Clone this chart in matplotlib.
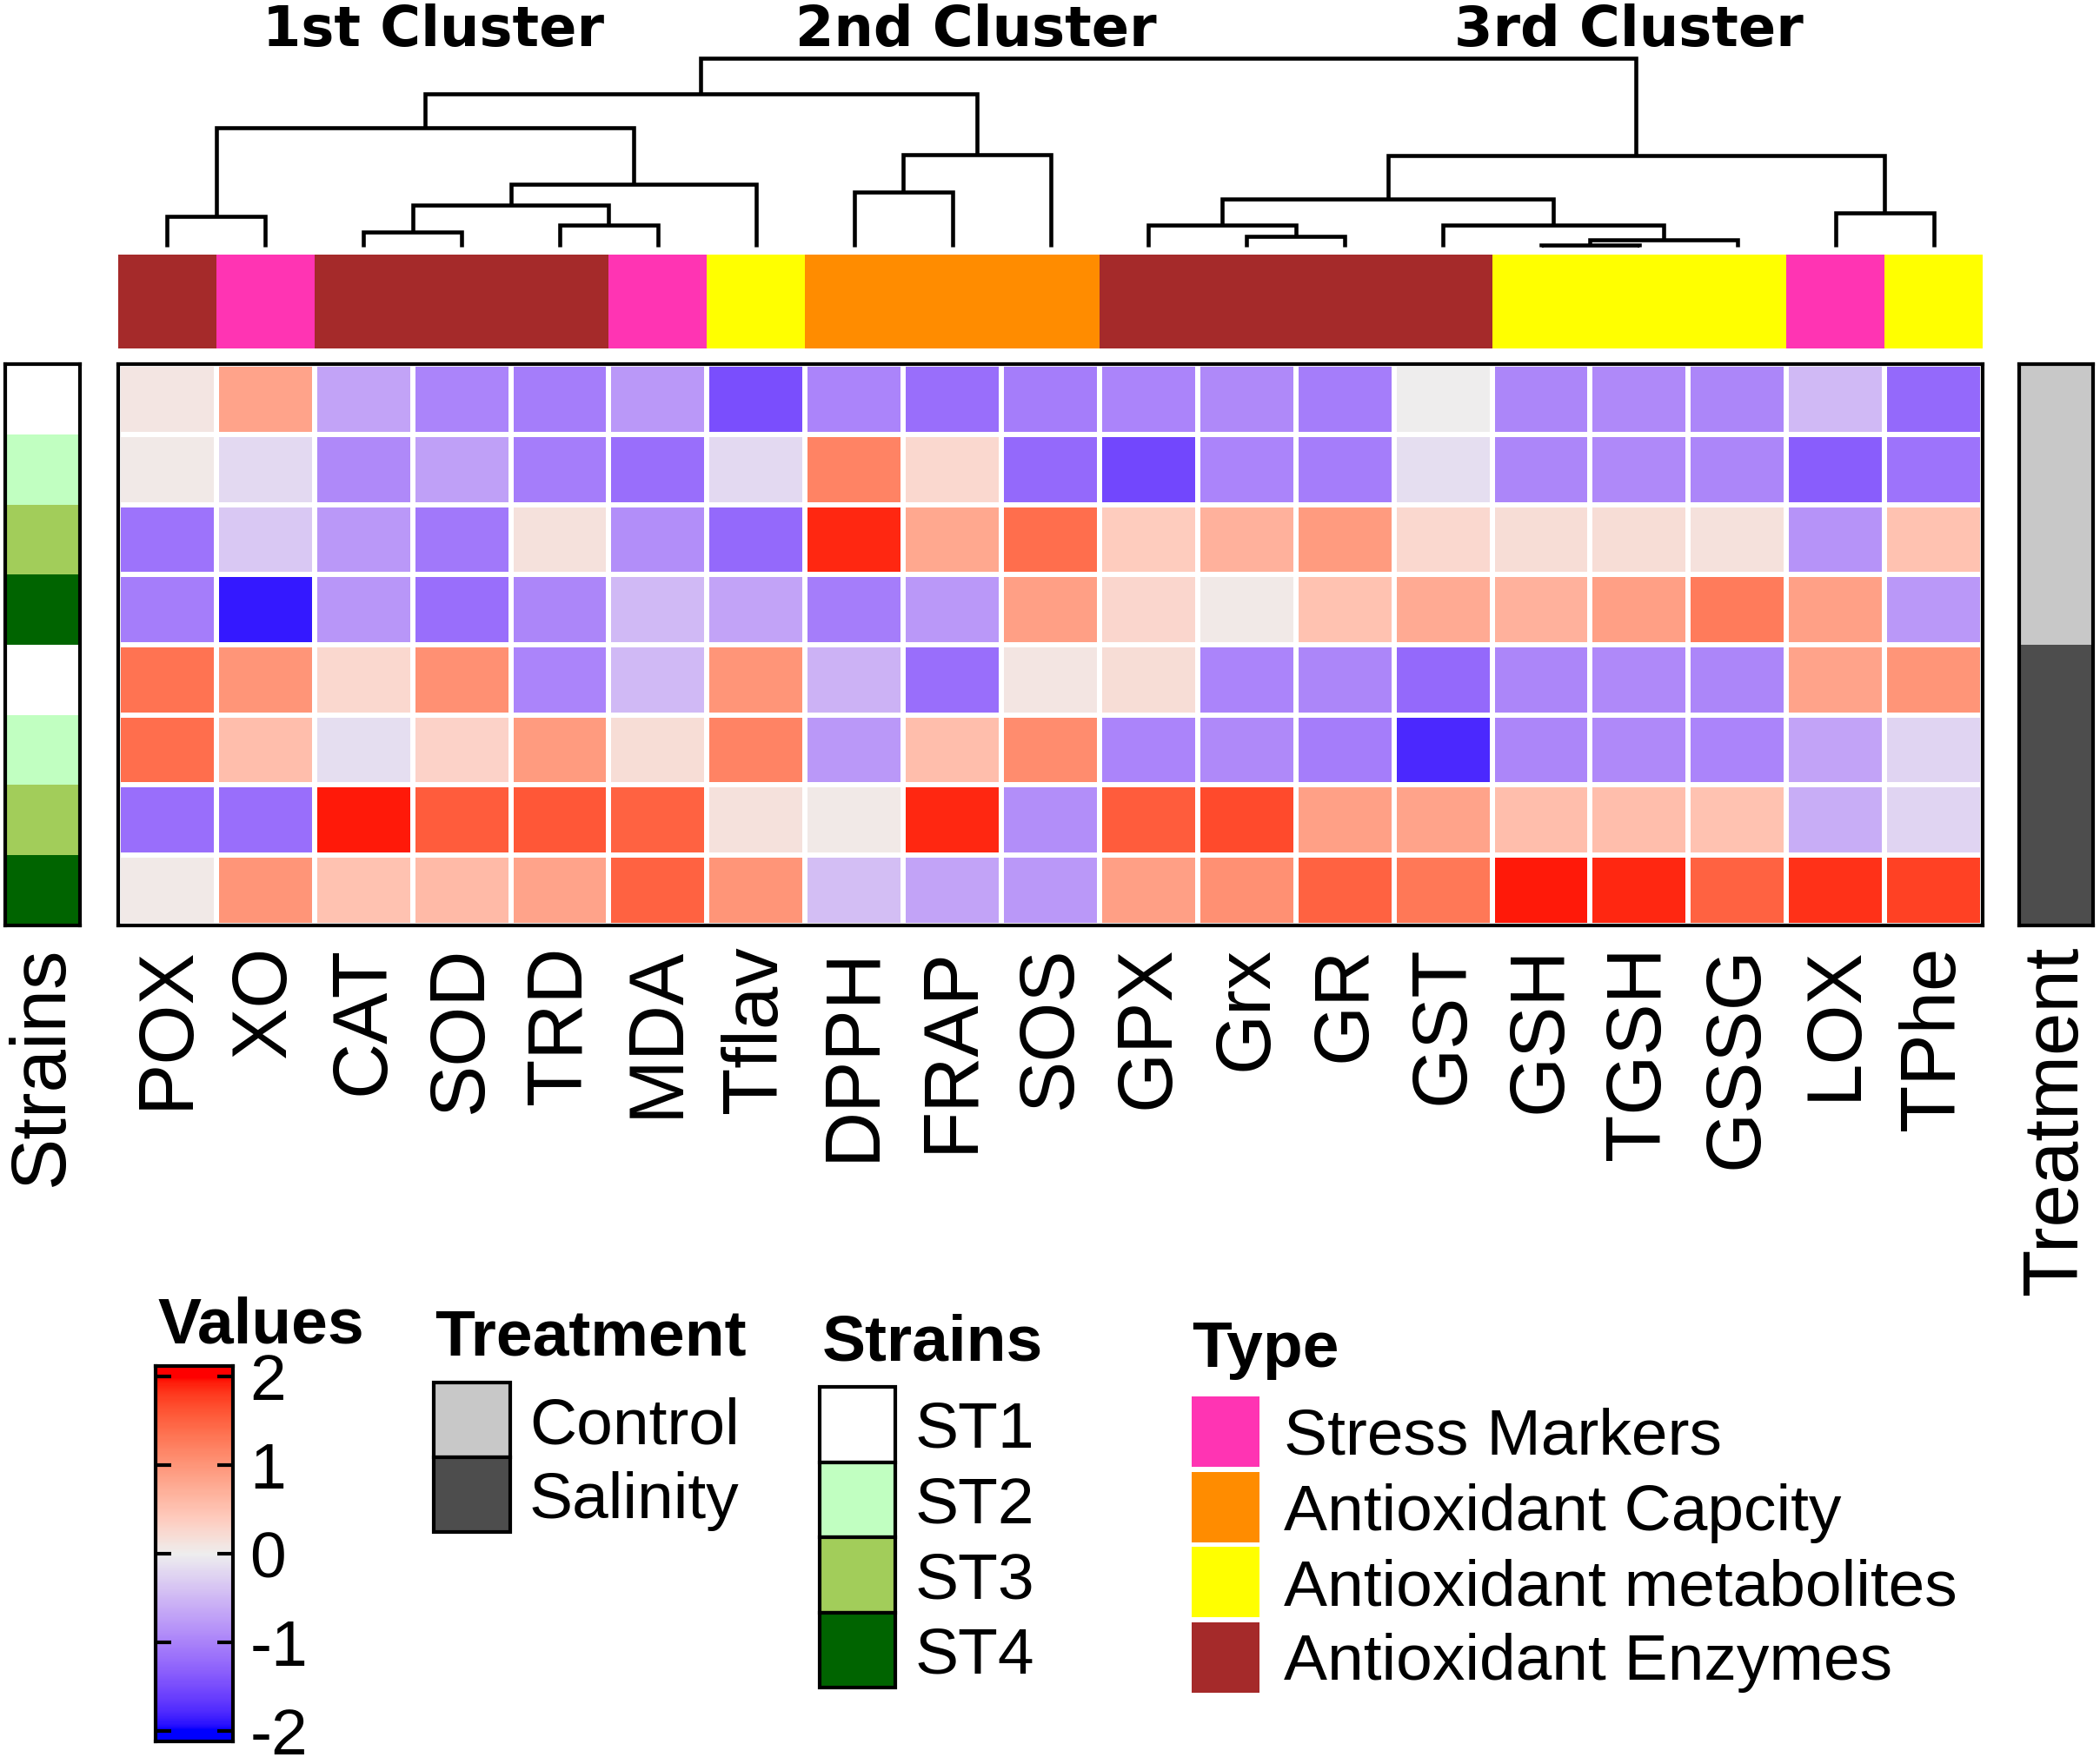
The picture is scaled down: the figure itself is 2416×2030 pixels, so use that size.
import numpy as np
import matplotlib
matplotlib.use("Agg")
import matplotlib.pyplot as plt
from matplotlib.colors import ListedColormap
from matplotlib.patches import Rectangle

# ---------------- data ----------------
columns = ["POX", "XO", "CAT", "SOD", "TRD", "MDA", "Tflav", "DPPH", "FRAP", "SOS",
           "GPX", "Grx", "GR", "GST", "GSH", "TGSH", "GSSG", "LOX", "TPhe"]
col_types = ["Antioxidant Enzymes", "Stress Markers", "Antioxidant Enzymes", "Antioxidant Enzymes",
             "Antioxidant Enzymes", "Stress Markers", "Antioxidant metabolites", "Antioxidant Capcity",
             "Antioxidant Capcity", "Antioxidant Capcity", "Antioxidant Enzymes", "Antioxidant Enzymes",
             "Antioxidant Enzymes", "Antioxidant Enzymes", "Antioxidant metabolites",
             "Antioxidant metabolites", "Antioxidant metabolites", "Stress Markers",
             "Antioxidant metabolites"]
row_strains = ["ST1", "ST2", "ST3", "ST4", "ST1", "ST2", "ST3", "ST4"]
row_treatment = ["Control"] * 4 + ["Salinity"] * 4

st1_control = [0.1, 0.85, -0.7, -1.0, -1.05, -0.8, -1.5, -1.0, -1.2, -1.05, -1.0, -0.95, -1.05, 0.0, -0.97, -0.95, -0.97, -0.5, -1.25]
st2_control = [0.05, -0.2, -0.95, -0.72, -1.05, -1.2, -0.2, 1.2, 0.25, -1.25, -1.55, -1.0, -1.05, -0.15, -0.97, -0.95, -0.97, -1.35, -1.15]
st3_control = [-1.15, -0.35, -0.8, -1.1, 0.15, -0.9, -1.25, 1.9, 0.8, 1.4, 0.4, 0.7, 0.95, 0.25, 0.2, 0.2, 0.15, -0.85, 0.5]
st4_control = [-1.05, -1.9, -0.82, -1.2, -0.97, -0.5, -0.7, -1.05, -0.8, 0.9, 0.28, 0.05, 0.5, 0.78, 0.7, 0.9, 1.28, 0.88, -0.8]
st1_salinity = [1.35, 1.0, 0.25, 1.05, -1.0, -0.5, 1.0, -0.55, -1.2, 0.1, 0.2, -1.0, -0.97, -1.25, -0.97, -0.95, -0.97, 0.85, 1.0]
st2_salinity = [1.4, 0.55, -0.15, 0.32, 0.95, 0.2, 1.2, -0.8, 0.55, 1.1, -1.0, -0.95, -1.05, -1.8, -0.97, -0.95, -1.0, -0.7, -0.25]
st3_salinity = [-1.2, -1.2, 1.95, 1.55, 1.6, 1.5, 0.15, 0.05, 1.9, -0.9, 1.55, 1.7, 0.88, 0.85, 0.55, 0.55, 0.5, -0.6, -0.25]
st4_salinity = [0.05, 1.0, 0.5, 0.6, 0.85, 1.5, 1.0, -0.45, -0.7, -0.8, 0.9, 1.05, 1.5, 1.3, 1.95, 1.9, 1.5, 1.85, 1.75]

# dendrogram merges: (left, right, height); ints refer to earlier merges
merges = [
    ("POX", "XO", 23),      # 0
    ("CAT", "SOD", 11),     # 1
    ("TRD", "MDA", 16),     # 2
    (1, 2, 31),             # 3
    (3, "Tflav", 47),       # 4
    (0, 4, 89),             # 5
    ("DPPH", "FRAP", 41),   # 6
    (6, "SOS", 69),         # 7
    (5, 7, 114),            # 8
    ("Grx", "GR", 8),       # 9
    ("GPX", 9, 16),         # 10
    ("GSH", "TGSH", 1.2),   # 11
    (11, "GSSG", 5.5),      # 12
    ("GST", 12, 16),        # 13
    (10, 13, 36),           # 14
    ("LOX", "TPhe", 25),    # 15
    (14, 15, 68),           # 16
    (8, 16, 141),           # 17
]
cluster_titles = ["1st Cluster", "2nd Cluster", "3rd Cluster"]

strain_levels = ["ST1", "ST2", "ST3", "ST4"]
strain_colors = ["#FFFFFF", "#C1FFC1", "#A2CD5A", "#006400"]
treat_levels = ["Control", "Salinity"]
treat_colors = ["#C8C8C8", "#4D4D4D"]
type_levels = ["Stress Markers", "Antioxidant Capcity", "Antioxidant metabolites", "Antioxidant Enzymes"]
type_colors = ["#FF34B3", "#FF8C00", "#FFFF00", "#A52A2A"]
cbar_ticks = [-2, -1, 0, 1, 2]

# ---------------- colormap (LAB interpolation blue - #EEEEEE - red) ----------------
M = np.array([[0.4124, 0.3576, 0.1805], [0.2126, 0.7152, 0.0722], [0.0193, 0.1192, 0.9505]])
WHITE = M @ np.ones(3)


def to_lab(rgb):
    c = np.asarray(rgb, float)
    lin = np.where(c <= 0.04045, c / 12.92, ((c + 0.055) / 1.055) ** 2.4)
    xyz = M @ lin / WHITE
    d = 6 / 29
    f = np.where(xyz > d ** 3, np.cbrt(xyz), xyz / (3 * d * d) + 4 / 29)
    return np.array([116 * f[1] - 16, 500 * (f[0] - f[1]), 200 * (f[1] - f[2])])


def from_lab(lab):
    L, a, b = lab
    fy = (L + 16) / 116
    fx = fy + a / 500
    fz = fy - b / 200
    d = 6 / 29
    f = np.array([fx, fy, fz])
    xyz = np.where(f > d, f ** 3, 3 * d * d * (f - 4 / 29)) * WHITE
    lin = np.linalg.solve(M, xyz)
    lin = np.clip(lin, 0, 1)
    c = np.where(lin <= 0.0031308, 12.92 * lin, 1.055 * lin ** (1 / 2.4) - 0.055)
    return np.clip(c, 0, 1)


lab_blue = to_lab([0, 0, 1])
lab_mid = to_lab([0xEE / 255] * 3)
lab_red = to_lab([1, 0, 0])
cols = []
for v in np.linspace(-2, 2, 256):
    if v < 0:
        t = (v + 2) / 2
        cols.append(from_lab(lab_blue * (1 - t) + lab_mid * t))
    else:
        t = v / 2
        cols.append(from_lab(lab_mid * (1 - t) + lab_red * t))
cmap = ListedColormap(cols)

# ---------------- figure ----------------
W, H = 2416, 2030
fig = plt.figure(figsize=(W / 100, H / 100), dpi=100)
SANS = "Liberation Sans"


def add_ax(x0, y0, x1, y1):
    return fig.add_axes([x0 / W, 1 - y1 / H, (x1 - x0) / W, (y1 - y0) / H])


data = np.array([st1_control, st2_control, st3_control, st4_control,
                 st1_salinity, st2_salinity, st3_salinity, st4_salinity])
nr, nc = data.shape

# heatmap
ax = add_ax(136, 419, 2281, 1065)
ax.pcolormesh(np.arange(nc + 1), np.arange(nr + 1), data, cmap=cmap, vmin=-2, vmax=2,
              edgecolors="white", linewidth=3)
ax.set_xlim(0, nc)
ax.set_ylim(nr, 0)
ax.set_yticks([])
ax.set_xticks(np.arange(nc) + 0.5, labels=columns, rotation=90, fontsize=64, fontfamily=SANS)
ax.tick_params(axis="x", length=0, pad=17)
for s in ax.spines.values():
    s.set_linewidth(3)

# type annotation bar
ax_t = add_ax(136, 293, 2281, 401)
t_idx = np.array([[type_levels.index(t) for t in col_types]])
ax_t.pcolormesh(np.arange(nc + 1), [0, 1], t_idx, cmap=ListedColormap(type_colors), vmin=-0.5, vmax=3.5)
ax_t.set_xlim(0, nc)
ax_t.axis("off")

# strains bar
ax_s = add_ax(6, 419, 92, 1065)
s_idx = np.array([[strain_levels.index(s)] for s in row_strains])
ax_s.pcolormesh([0, 1], np.arange(nr + 1), s_idx, cmap=ListedColormap(strain_colors), vmin=-0.5, vmax=3.5)
ax_s.set_ylim(nr, 0)
ax_s.set_yticks([])
ax_s.set_xticks([0.5], labels=["Strains"], rotation=90, fontsize=64, fontfamily=SANS)
ax_s.tick_params(axis="x", length=0, pad=17)
for s in ax_s.spines.values():
    s.set_linewidth(3)

# treatment bar
ax_r = add_ax(2323, 419, 2408, 1065)
r_idx = np.array([[treat_levels.index(t)] for t in row_treatment])
ax_r.pcolormesh([0, 1], np.arange(nr + 1), r_idx, cmap=ListedColormap(treat_colors), vmin=-0.5, vmax=1.5)
ax_r.set_ylim(nr, 0)
ax_r.set_yticks([])
ax_r.set_xticks([0.5], labels=["Treatment"], rotation=90, fontsize=64, fontfamily=SANS)
ax_r.tick_params(axis="x", length=0, pad=17)
for s in ax_r.spines.values():
    s.set_linewidth(3)

# dendrogram
ax_d = add_ax(136, 284 - 141 * 1.541, 2281, 284)
ax_d.set_xlim(0, nc)
ax_d.set_ylim(0, 141)
ax_d.axis("off")
pos = {name: (i + 0.5, 0.0) for i, name in enumerate(columns)}
node = []
for left, right, h in merges:
    xl, hl = pos[left] if isinstance(left, str) else node[left]
    xr, hr = pos[right] if isinstance(right, str) else node[right]
    ax_d.plot([xl, xl, xr, xr], [hl, h, h, hr], color="black", lw=3.3,
              solid_capstyle="butt", solid_joinstyle="miter", clip_on=False)
    node.append(((xl + xr) / 2, h))

# cluster titles
for label, xc in zip(cluster_titles, [498, 1123, 1874]):
    fig.text(xc / W, 1 - 53 / H, label, ha="center", va="baseline", fontsize=46,
             fontweight="bold", fontfamily="DejaVu Sans")

# ---------------- legends ----------------
ax_o = fig.add_axes([0, 0, 1, 1])
ax_o.set_xlim(0, W)
ax_o.set_ylim(H, 0)
ax_o.axis("off")
ax_o.set_zorder(-1)
FS = 54

# Values colorbar
ax_o.text(181, 1545, "Values", fontsize=FS, fontweight="bold", fontfamily=SANS, va="baseline")
ax_cb = add_ax(179, 1572, 268, 2004)
grad = np.linspace(-2.12, 2.12, 300).reshape(-1, 1)
ax_cb.imshow(grad, aspect="auto", cmap=cmap, vmin=-2, vmax=2, origin="lower",
             extent=[0, 1, -2.12, 2.12])
ax_cb.set_ylim(-2.12, 2.12)
ax_cb.set_xticks([])
ax_cb.set_yticks(cbar_ticks, labels=[str(t) for t in cbar_ticks])
ax_cb.tick_params(axis="y", direction="in", length=13, width=3, left=True, right=True,
                  labelleft=False, labelright=True, labelsize=FS, pad=14)
for t in ax_cb.get_yticklabels():
    t.set_fontfamily(SANS)
for s in ax_cb.spines.values():
    s.set_linewidth(3)

# Treatment legend
ax_o.text(500, 1560, "Treatment", fontsize=FS, fontweight="bold", fontfamily=SANS, va="baseline")
for i, (lab, colr) in enumerate(zip(treat_levels, treat_colors)):
    y0 = 1591 + i * 86
    ax_o.add_patch(Rectangle((499, y0), 88, 86, facecolor=colr, edgecolor="black", lw=3))
    ax_o.text(609, y0 + 43 + 27, lab, fontsize=FS, fontfamily=SANS, va="baseline")

# Strains legend
ax_o.text(946, 1566, "Strains", fontsize=FS, fontweight="bold", fontfamily=SANS, va="baseline")
for i, (lab, colr) in enumerate(zip(strain_levels, strain_colors)):
    y0 = 1596 + i * 86.5
    ax_o.add_patch(Rectangle((943, y0), 87, 86.5, facecolor=colr, edgecolor="black", lw=3))
    ax_o.text(1053, y0 + 43 + 27, lab, fontsize=FS, fontfamily=SANS, va="baseline")

# Type legend
ax_o.text(1371, 1573, "Type", fontsize=FS, fontweight="bold", fontfamily=SANS, va="baseline")
for i, (lab, colr) in enumerate(zip(type_levels, type_colors)):
    y0 = 1607 + i * 86.5
    ax_o.add_patch(Rectangle((1371, y0), 78, 81, facecolor=colr, edgecolor="none"))
    ax_o.text(1477, y0 + 40 + 27, lab, fontsize=FS, fontfamily=SANS, va="baseline")

fig.savefig("out.png", dpi=100)
